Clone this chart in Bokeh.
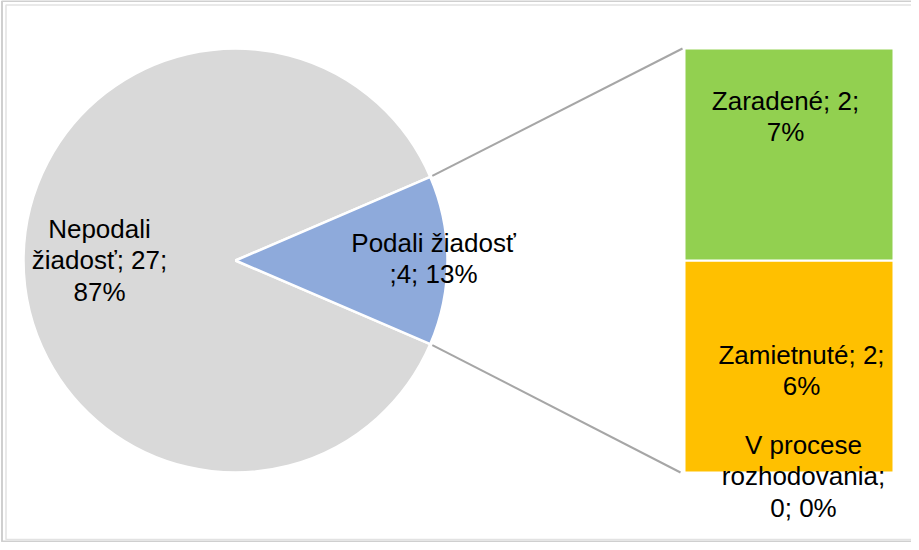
import math
from bokeh.plotting import figure
from bokeh.models import Range1d
from bokeh.core.properties import value
from bokeh.embed import file_html
from bokeh.resources import INLINE

# ---- data ----
pie_names = ["Nepodali žiadosť", "Podali žiadosť"]
pie_values = [27, 4]
pie_pcts = [87, 13]
pie_colors = ["#d9d9d9", "#8eaadb"]

bar_names = ["V procese rozhodovania", "Zamietnuté", "Zaradené"]   # bottom -> top
bar_values = [0, 2, 2]
bar_pcts = [0, 6, 7]
bar_colors = ["#a5a5a5", "#ffc000", "#92d050"]

pie_labels = ["Nepodali\nžiadosť; 27;\n87%", "Podali žiadosť\n;4; 13%"]
bar_labels = ["V procese\nrozhodovania;\n0; 0%", "Zamietnuté; 2;\n6%", "Zaradené; 2;\n7%"]

# ---- layout (page pixel coords -> data) ----
W, H = 911, 542
def Y(py):
    return 550 - py

p = figure(width=W, height=H, output_backend="svg", toolbar_location=None,
           x_range=Range1d(8, 919), y_range=Range1d(0, 542),
           x_axis_location=None, y_axis_location=None, min_border=0)
p.outline_line_color = None
p.grid.visible = False
p.background_fill_color = "white"
p.border_fill_color = "white"

# chart frame
p.quad(left=[9.5], right=[940], bottom=[Y(549)], top=[Y(8.5)], fill_color=None,
       line_color="#cfcfcf", line_width=2)
p.quad(left=[13.5], right=[940], bottom=[Y(547)], top=[Y(12.5)], fill_color=None,
       line_color="#e2e2e2", line_width=1.5)

# pie
cx, cy, r = 243, Y(268), 212
total = sum(pie_values)
half = math.pi * pie_values[1] / total
starts = [half, -half]
ends = [2 * math.pi - half, half]
p.wedge(x=[cx, cx], y=[cy, cy], radius=r, start_angle=starts, end_angle=ends,
        fill_color=pie_colors, line_color="white", line_width=2.5)

# bar of pie
bar_left, bar_right = 692, 901
bar_total = sum(bar_values)
scale = 2 * r / bar_total
bottoms, tops = [], []
acc = cy - r
for v in bar_values:
    bottoms.append(acc)
    acc += v * scale
    tops.append(acc)
nz = [i for i, v in enumerate(bar_values) if v > 0]
p.quad(left=[bar_left] * len(nz), right=[bar_right] * len(nz),
       bottom=[bottoms[i] for i in nz], top=[tops[i] for i in nz],
       fill_color=[bar_colors[i] for i in nz], line_color="white", line_width=2)

# connector lines
ex = cx + r * math.cos(half) + 2
p.segment(x0=[ex, ex], y0=[cy + r * math.sin(half) + 1, cy - r * math.sin(half) - 1],
          x1=[bar_left - 2, bar_left - 4], y1=[cy + r, cy - r],
          line_color="#a6a6a6", line_width=2)

# labels
font = value("Liberation Sans")
p.text(x=[107, 441], y=[Y(268), Y(266)], text=pie_labels,
       text_align="center", text_baseline="middle", text_font=font,
       text_font_size="26px", text_line_height=1.04, text_color="black")
p.text(x=[811, 809, 793], y=[Y(484), Y(378), Y(124)], text=bar_labels,
       text_align="center", text_baseline="middle", text_font=font,
       text_font_size="26px", text_line_height=1.04, text_color="black")

open("out.html", "w").write(file_html(p, INLINE))
